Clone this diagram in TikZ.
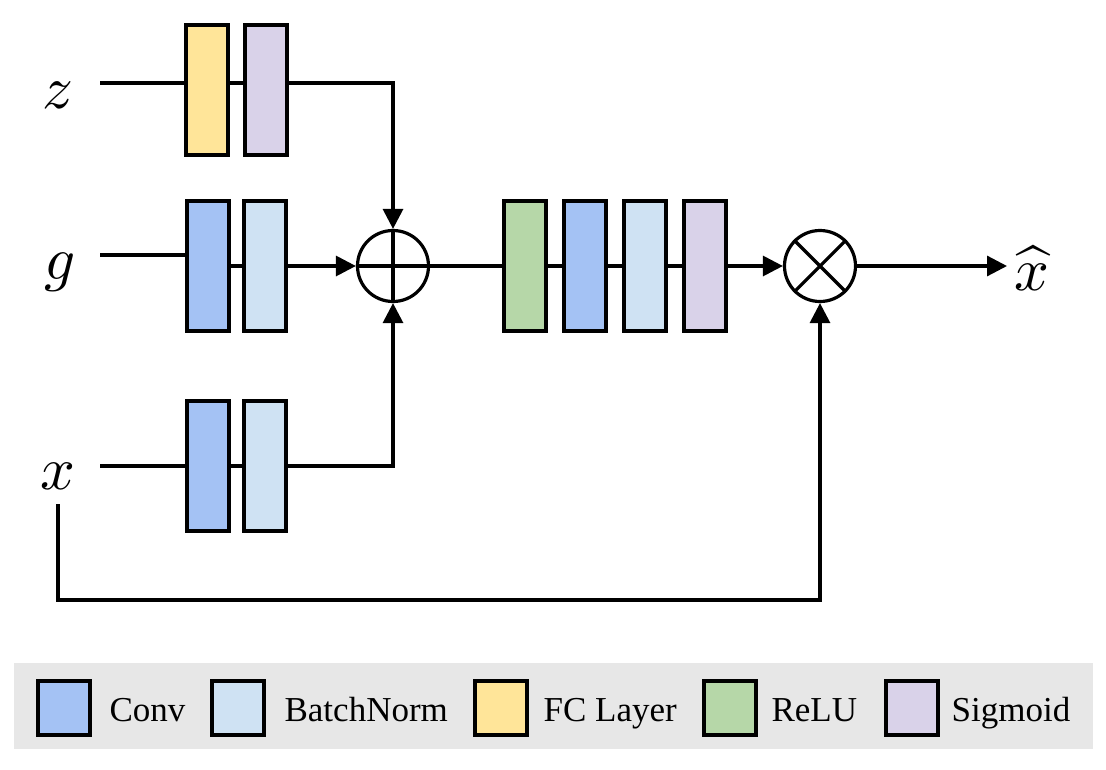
\documentclass[tikz,border=0pt]{standalone}
\usepackage{fontspec}
\setmainfont{Liberation Serif}
\usetikzlibrary{arrows.meta,positioning}
\definecolor{convc}{HTML}{A4C2F4}
\definecolor{bnc}{HTML}{CFE2F3}
\definecolor{fcc}{HTML}{FFE599}
\definecolor{reluc}{HTML}{B6D7A8}
\definecolor{sigc}{HTML}{D9D2E9}
\definecolor{legbg}{HTML}{E7E7E7}
\begin{document}
\begin{tikzpicture}[x=1pt,y=-1pt,line width=3.2pt,
    layer/.style={draw,line width=3.6pt,minimum width=42.5pt,minimum height=130.5pt,inner sep=0pt},
    conv/.style={layer,fill=convc},
    bn/.style={layer,fill=bnc},
    fc/.style={layer,fill=fcc},
    relu/.style={layer,fill=reluc},
    sig/.style={layer,fill=sigc},
    key/.style={minimum width=52.5pt,minimum height=53.5pt},
    op/.style={draw,circle,line width=3.2pt,minimum size=71pt,inner sep=0pt},
    lab/.style={anchor=base,inner sep=0pt,scale=6.1},
    keytext/.style={anchor=base west,inner sep=0pt,font=\fontsize{35}{40}\selectfont},
    arr/.style={-{Triangle[length=20pt,width=20pt]}}]
    \useasboundingbox (0,0) rectangle (1106,769);
    % inputs
    \node[lab] (z) at (58,108) {$z$};
    \node[lab] (g) at (60,279) {$g$};
    \node[lab] (x) at (58,489) {$x$};
    \coordinate (zin) at (100,83);
    \coordinate (gin) at (100,255);
    \coordinate (xin) at (100,466);
    \coordinate (xskip) at (58,504);
    \coordinate (skipy) at (0,600);
    % branches
    \node[fc] (zfc) at (207,90) {};
    \node[sig] (zsig) at (266,90) {};
    \node[conv] (gconv) at (208,266) {};
    \node[bn] (gbn) at (265,266) {};
    \node[conv] (xconv) at (208,466) {};
    \node[bn] (xbn) at (265,466) {};
    \node[op] (add) at (393,266) {};
    \draw (add.north) -- (add.south) (add.west) -- (add.east);
    % main path
    \node[relu] (mrelu) at (525,266) {};
    \node[conv] (mconv) at (585,266) {};
    \node[bn] (mbn) at (645,266) {};
    \node[sig] (msig) at (705,266) {};
    \node[op] (mul) at (820,266) {};
    \draw (mul.north west) -- (mul.south east) (mul.north east) -- (mul.south west);
    \node[lab] (xhat) at (1032,290) {$\widehat{x}$};
    \coordinate (xout) at (1007,266);
    % connections
    \draw (zin) -- (zin -| zfc.west);
    \draw (zfc.east |- zin) -- (zsig.west |- zin);
    \draw[arr] (zsig.east |- zin) -| (add.north);
    \draw (gin) -- (gin -| gconv.west);
    \draw (gconv) -- (gbn);
    \draw[arr] (gbn) -- (add);
    \draw (xin) -- (xconv);
    \draw (xconv) -- (xbn);
    \draw[arr] (xbn) -| (add.south);
    \draw (add) -- (mrelu);
    \draw (mrelu) -- (mconv);
    \draw (mconv) -- (mbn);
    \draw (mbn) -- (msig);
    \draw[arr] (msig) -- (mul);
    \draw[arr] (mul) -- (xout);
    \draw[arr] (xskip) -- (xskip |- skipy) -| (mul.south);
    % legend
    \fill[legbg] (14,663) rectangle (1093,749);
    \node[conv,key] (kconv) at (64,708) {};
    \node[keytext] (tconv) at (108,721) {Conv};
    \node[bn,key] (kbn) at (238,708) {};
    \node[keytext] (tbn) at (283,721) {BatchNorm};
    \node[fc,key] (kfc) at (501,708) {};
    \node[keytext] (tfc) at (542,721) {FC Layer};
    \node[relu,key] (krelu) at (730,708) {};
    \node[keytext] (trelu) at (770,721) {ReLU};
    \node[sig,key] (ksig) at (912,708) {};
    \node[keytext] (tsig) at (950,721) {Sigmoid};
\end{tikzpicture}
\end{document}
